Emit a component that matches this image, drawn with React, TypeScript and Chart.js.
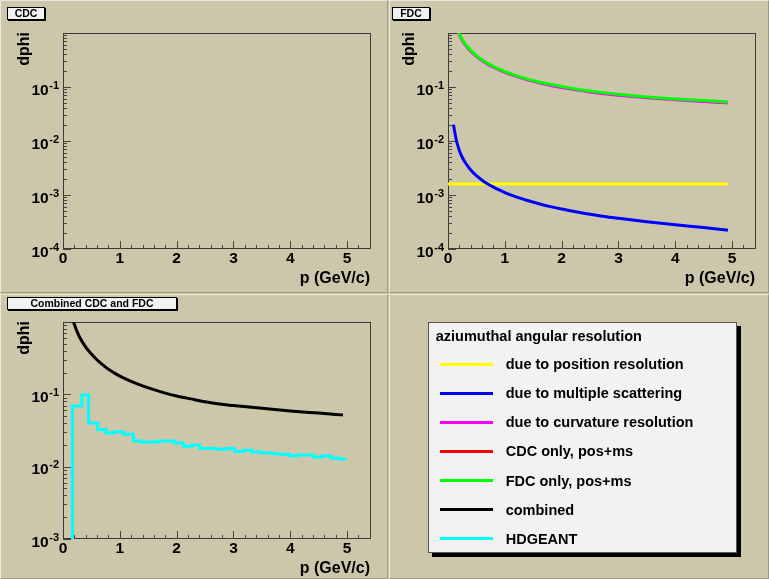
import React, { useEffect, useRef } from 'react';
import { Chart, registerables } from 'chart.js';

Chart.register(...registerables);

// ---------------- data ----------------
// FDC pad: momentum samples (GeV/c)
const P_FDC = [0.1, 0.15, 0.2, 0.25, 0.3, 0.4, 0.5, 0.6, 0.7, 0.8, 0.9, 1.0, 1.2, 1.4, 1.6, 1.8, 2.0, 2.25, 2.5, 2.75, 3.0, 3.5, 4.0, 4.5, 4.9];
// due to position resolution (constant)
const P_POS = [0.02, 4.9];
const FDC_POS = [0.0016, 0.0016];
// due to multiple scattering
const FDC_MS = [0.0189, 0.01, 0.0067, 0.005, 0.00405, 0.00291, 0.00228, 0.00188, 0.0016, 0.0014, 0.00124, 0.00111, 0.00092, 0.00079, 0.00069, 0.00061, 0.00055, 0.00049, 0.00044, 0.0004, 0.00037, 0.00032, 0.00028, 0.00025, 0.000225];
// due to curvature resolution
const FDC_CURV = [1.83, 1.22, 0.918, 0.734, 0.612, 0.459, 0.368, 0.308, 0.264, 0.232, 0.207, 0.187, 0.157, 0.136, 0.12, 0.108, 0.098, 0.089, 0.081, 0.075, 0.07, 0.063, 0.058, 0.054, 0.051];
// FDC only, pos+ms
const FDC_ONLY = [1.9, 1.267, 0.951, 0.761, 0.634, 0.476, 0.382, 0.319, 0.274, 0.24, 0.214, 0.193, 0.162, 0.14, 0.124, 0.112, 0.102, 0.092, 0.084, 0.078, 0.073, 0.065, 0.06, 0.056, 0.053];

// Combined pad
const P_COMB = [0.1, 0.15, 0.2, 0.25, 0.3, 0.4, 0.5, 0.6, 0.7, 0.8, 0.9, 1.0, 1.2, 1.4, 1.6, 1.8, 2.0, 2.25, 2.5, 2.75, 3.0, 3.5, 4.0, 4.5, 4.9];
const COMBINED = [1.8, 1.2, 0.93, 0.73, 0.6, 0.45, 0.36, 0.298, 0.256, 0.222, 0.198, 0.179, 0.151, 0.131, 0.116, 0.104, 0.095, 0.0865, 0.079, 0.0735, 0.07, 0.064, 0.059, 0.055, 0.052];
// HDGEANT histogram: bin left edges and contents
const HDG_P = [0.165, 0.167, 0.33, 0.45, 0.61, 0.76, 0.905, 1.06, 1.24, 1.37, 1.68, 1.96, 2.12, 2.27, 2.41, 2.71, 2.87, 3.02, 3.17, 3.32, 3.47, 3.68, 3.83, 3.98, 4.12, 4.41, 4.56, 4.71, 4.85, 4.98];
const HDG = [0.0002, 0.069, 0.098, 0.0403, 0.0327, 0.0293, 0.0303, 0.0281, 0.0227, 0.022, 0.0227, 0.0213, 0.0191, 0.02, 0.0179, 0.0174, 0.0179, 0.0162, 0.0169, 0.016, 0.0156, 0.0151, 0.0148, 0.0141, 0.0145, 0.0136, 0.0141, 0.0132, 0.0128, 0.0128];

// axes
const X_MAX = 5.42;
const X_TICKS = [0, 1, 2, 3, 4, 5];
const X_MINOR_STEP = 0.2;
const Y_EXP_TOP = [-4, -3, -2, -1];
const Y_EXP_COMB = [-3, -2, -1];
const X_TITLE = 'p (GeV/c)';
const Y_TITLE = 'dphi';

// legend
const LEGEND_TITLE = 'aziumuthal angular resolution';
const LEGEND_LABELS = ['due to position resolution', 'due to multiple scattering', 'due to curvature resolution', 'CDC only, pos+ms', 'FDC only, pos+ms', 'combined', 'HDGEANT'];
const LEGEND_COLORS = ['#ffff00', '#0000ff', '#ff00ff', '#ff0000', '#00ff00', '#000000', '#00ffff'];

// ---------------- styling ----------------
const W = 769;
const H = 579;
const TAN = '#ccc6aa';
const LIGHT = '#ebe7da';
const DARK = '#a09a7c';
const FONT = "'Liberation Sans', Arial, Helvetica, sans-serif";

const rootAxesPlugin = {
  id: 'rootAxes',
  beforeDatasetsDraw(chart: any, _args: any, opts: any) {
    const { ctx, chartArea: a } = chart;
    const xs = chart.scales.x;
    const ys = chart.scales.y;
    const L = Math.round(a.left), T = Math.round(a.top), R = Math.round(a.right), B = Math.round(a.bottom);
    ctx.save();
    // frame
    ctx.strokeStyle = '#3a3a3a';
    ctx.lineWidth = 1;
    ctx.strokeRect(L + 0.5, T + 0.5, R - L - 1, B - T - 1);
    // ticks
    ctx.strokeStyle = '#444';
    ctx.beginPath();
    for (let i = 1; i * X_MINOR_STEP <= xs.max + 1e-9; i++) {
      const v = i * X_MINOR_STEP;
      const major = Math.abs(v - Math.round(v)) < 1e-6;
      const len = major ? 8 : 4;
      const px = Math.round(xs.getPixelForValue(v)) + 0.5;
      ctx.moveTo(px, B);
      ctx.lineTo(px, B - len);
    }
    const eMin = Math.round(Math.log10(ys.min));
    const eMax = Math.round(Math.log10(ys.max));
    for (let e = eMin; e < eMax; e++) {
      for (let k = 1; k <= 9; k++) {
        const v = k * Math.pow(10, e);
        const len = k === 1 ? 8 : 4;
        const py = Math.round(ys.getPixelForValue(v)) + 0.5;
        ctx.moveTo(L, py);
        ctx.lineTo(L + len, py);
      }
    }
    ctx.stroke();
    // x labels
    ctx.fillStyle = '#000';
    ctx.textBaseline = 'alphabetic';
    ctx.font = `bold 15.5px ${FONT}`;
    ctx.textAlign = 'center';
    for (const t of X_TICKS) {
      ctx.fillText(String(t), xs.getPixelForValue(t), B + 14);
    }
    // y labels 10^e
    for (const e of opts.yExps as number[]) {
      const py = ys.getPixelForValue(Math.pow(10, e));
      const re = L - 4;
      ctx.font = `bold 11px ${FONT}`;
      ctx.textAlign = 'right';
      const expStr = String(e);
      const ew = ctx.measureText(expStr).width;
      ctx.fillText(expStr, re, py + 1.5);
      ctx.font = `bold 15.5px ${FONT}`;
      ctx.fillText('10', re - ew - 0.5, py + 7.5);
    }
    // axis titles
    ctx.font = `bold 16px ${FONT}`;
    ctx.textAlign = 'right';
    ctx.fillText(X_TITLE, R - 1, B + 33.5);
    ctx.save();
    ctx.translate(L - 34, T - 1);
    ctx.rotate(-Math.PI / 2);
    ctx.fillText(Y_TITLE, 0, 0);
    ctx.restore();
    ctx.restore();
  },
};

function series(px: number[], py: number[], color: string, extra: any = {}) {
  return {
    data: px.map((x, i) => ({ x, y: py[i] })),
    borderColor: color,
    backgroundColor: color,
    borderWidth: 3,
    pointRadius: 0,
    fill: false,
    clip: 0,
    cubicInterpolationMode: 'monotone',
    borderCapStyle: 'square',
    ...extra,
  };
}

function makeChart(canvas: HTMLCanvasElement, f: { L: number; T: number; R: number; B: number }, yMin: number, yExps: number[], datasets: any[]) {
  return new Chart(canvas, {
    type: 'line',
    data: { datasets },
    options: {
      animation: false,
      responsive: false,
      devicePixelRatio: 1,
      events: [],
      layout: { padding: { left: f.L, top: f.T, right: W - f.R, bottom: H - f.B } },
      scales: {
        x: { type: 'linear', min: 0, max: X_MAX, display: false },
        y: { type: 'logarithmic', min: yMin, max: 1, display: false },
      },
      plugins: { legend: { display: false }, tooltip: { enabled: false }, rootAxes: { yExps } } as any,
      elements: { point: { radius: 0 } },
    } as any,
    plugins: [rootAxesPlugin as any],
  });
}

export default function App() {
  const c1 = useRef<HTMLCanvasElement>(null);
  const c2 = useRef<HTMLCanvasElement>(null);
  const c3 = useRef<HTMLCanvasElement>(null);

  useEffect(() => {
    document.body.style.margin = '0';
    // Chart.js paints the first dataset on top, so the list runs top-most first.
    const charts = [
      makeChart(c1.current!, { L: 63, T: 33, R: 371, B: 249 }, 1e-4, Y_EXP_TOP, []),
      makeChart(c2.current!, { L: 448, T: 33, R: 756, B: 249 }, 1e-4, Y_EXP_TOP, [
        series(P_FDC, FDC_ONLY, '#00ff00'),
        series(P_FDC, FDC_CURV, '#ff00ff'),
        series(P_FDC, FDC_MS, '#0000ff'),
        series(P_POS, FDC_POS, '#ffff00', { cubicInterpolationMode: 'default', tension: 0 }),
      ]),
      makeChart(c3.current!, { L: 63, T: 322, R: 371, B: 539 }, 1e-3, Y_EXP_COMB, [
        series(HDG_P, HDG, '#00ffff', { stepped: true, tension: 0, cubicInterpolationMode: 'default', borderCapStyle: 'butt', borderJoinStyle: 'miter' }),
        series(P_COMB, COMBINED, '#000000'),
      ]),
    ];
    return () => charts.forEach((c) => c.destroy());
  }, []);

  const pad = (left: number, top: number, width: number, height: number) => ({
    position: 'absolute' as const,
    left,
    top,
    width,
    height,
    boxSizing: 'border-box' as const,
    borderTop: `1px solid ${LIGHT}`,
    borderLeft: `1px solid ${LIGHT}`,
    borderRight: `1px solid ${DARK}`,
    borderBottom: `1px solid ${DARK}`,
    background: TAN,
  });

  const titleBox = (left: number, top: number, width: number) => ({
    position: 'absolute' as const,
    left,
    top,
    width,
    height: 13,
    boxSizing: 'border-box' as const,
    border: '1px solid #000',
    background: '#f2f2f2',
    boxShadow: '1px 1px 0 #000',
    font: `bold 10.5px ${FONT}`,
    lineHeight: '11px',
    textAlign: 'center' as const,
    color: '#000',
    whiteSpace: 'nowrap' as const,
  });

  const canvasStyle = { position: 'absolute' as const, left: 0, top: 0 };

  return (
    <div style={{ position: 'fixed', left: 0, top: 0, width: W, height: H, background: TAN, overflow: 'hidden', fontFamily: FONT }}>
      <div style={pad(0, 0, 388, 293)} />
      <div style={pad(389, 0, 380, 293)} />
      <div style={pad(0, 294, 388, 285)} />
      <div style={pad(389, 294, 380, 285)} />
      <canvas ref={c1} width={W} height={H} style={canvasStyle} />
      <canvas ref={c2} width={W} height={H} style={canvasStyle} />
      <canvas ref={c3} width={W} height={H} style={canvasStyle} />
      <div style={titleBox(7, 7, 38)}>CDC</div>
      <div style={titleBox(392, 7, 38)}>FDC</div>
      <div style={titleBox(7, 297, 170)}>Combined CDC and FDC</div>
      <div
        style={{
          position: 'absolute',
          left: 428,
          top: 322,
          width: 309,
          height: 231,
          boxSizing: 'border-box',
          border: '1px solid #555',
          background: '#f2f2f2',
          boxShadow: '4px 4px 0 #000',
        }}
      >
        <div style={{ position: 'absolute', left: 6.7, top: 5, font: `bold 14.5px ${FONT}`, lineHeight: '16px', color: '#000', whiteSpace: 'nowrap' }}>{LEGEND_TITLE}</div>
        {LEGEND_LABELS.map((label, i) => {
          const cy = 41 + i * 29.05;
          return (
            <React.Fragment key={label}>
              <div style={{ position: 'absolute', left: 11, top: cy - 1.5, width: 53, height: 3, background: LEGEND_COLORS[i] }} />
              <div style={{ position: 'absolute', left: 76.7, top: cy - 7.7, font: `bold 14.5px ${FONT}`, lineHeight: '16px', color: '#000', whiteSpace: 'nowrap' }}>{label}</div>
            </React.Fragment>
          );
        })}
      </div>
    </div>
  );
}
